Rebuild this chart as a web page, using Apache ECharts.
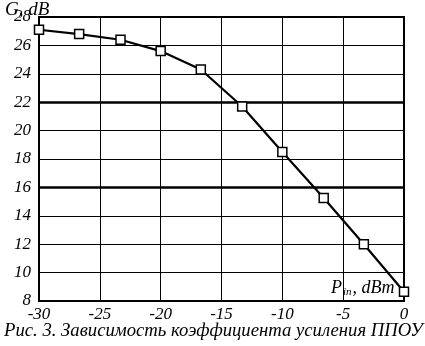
<!DOCTYPE html>
<html>
<head>
<meta charset="utf-8">
<script src="https://cdn.jsdelivr.net/npm/echarts@6/dist/echarts.min.js"></script>
<style>
html,body{margin:0;padding:0;background:#fff;}
#c{width:425px;height:346px;}
</style>
</head>
<body>
<div id="c"></div>
<script>
var pin = [-30, -26.7, -23.3, -20, -16.7, -13.3, -10, -6.6, -3.3, 0];
var gain = [27.1, 26.8, 26.4, 25.6, 24.3, 21.7, 18.5, 15.25, 12.0, 8.65];
var xTicks = [-30, -25, -20, -15, -10, -5, 0];
var yTicks = [8, 10, 12, 14, 16, 18, 20, 22, 24, 26, 28];
var thickLines = [22, 16];
var yName = 'G, dB';
var caption = 'Рис. 3. Зависимость коэффициента усиления ППОУ';

var font = '"Liberation Serif", "DejaVu Serif", serif';
var chart = echarts.init(document.getElementById('c'));
var pts = pin.map(function (x, i) { return [x, gain[i]]; });
chart.setOption({
  animation: false,
  backgroundColor: '#fff',
  grid: { left: 39, right: 21, top: 17, bottom: 45, show: true, borderColor: '#000', borderWidth: 2, containLabel: false },
  xAxis: {
    type: 'value', min: -30, max: 0, interval: 5,
    axisLine: { show: false },
    axisTick: { show: false },
    splitLine: { show: true, lineStyle: { color: '#000', width: 1 } },
    axisLabel: { color: '#000', fontFamily: font, fontStyle: 'italic', fontSize: 17, margin: 5 }
  },
  yAxis: {
    type: 'value', min: 8, max: 28, interval: 2,
    axisLine: { show: false },
    axisTick: { show: false },
    splitLine: { show: true, lineStyle: { color: '#000', width: 1 } },
    axisLabel: { color: '#000', fontFamily: font, fontStyle: 'italic', fontSize: 17, margin: 8 }
  },
  series: [{
    type: 'line',
    data: pts,
    symbol: 'rect',
    symbolSize: 9,
    lineStyle: { color: '#000', width: 2.2 },
    itemStyle: { color: '#fff', borderColor: '#000', borderWidth: 1.5 },
    z: 5,
    markLine: {
      silent: true,
      symbol: 'none',
      label: { show: false },
      lineStyle: { color: '#000', width: 2.5, type: 'solid' },
      data: thickLines.map(function (v) { return { yAxis: v }; }),
      z: 3
    }
  }],
  graphic: [
    { type: 'text', left: 5, top: 0, style: { text: yName, font: 'italic 19px ' + font, fill: '#000' } },
    { type: 'text', left: 331, top: 279, style: {
        text: '{p|P}{s|in}{p|, dBm}',
        rich: {
          p: { font: 'italic 18px ' + font, fill: '#000' },
          s: { font: 'italic 11px ' + font, fill: '#000', padding: [8, 1, 0, 1] }
        }
      } },
    { type: 'text', left: 4, top: 322, style: { text: caption, font: 'italic 18.7px ' + font, fill: '#000' } }
  ]
});
</script>
</body>
</html>
